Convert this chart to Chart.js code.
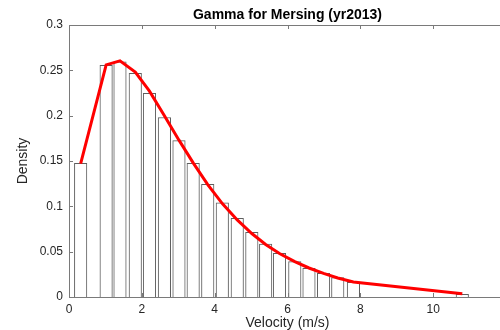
<!DOCTYPE html>
<html>
<head>
<meta charset="utf-8">
<script src="https://cdn.jsdelivr.net/npm/chart.js@4"></script>
<style>
  html, body { margin: 0; padding: 0; overflow: hidden; background: #fff; }
  #wrap { width: 510px; height: 330px; }
</style>
</head>
<body>
<div id="wrap"><canvas id="chartGamma" width="510" height="330"></canvas></div>
<script>
// histogram bins (centres, m/s) and densities
var binCentres = [0.32, 1.02, 1.40, 1.82, 2.21, 2.62, 3.02, 3.41, 3.81, 4.21, 4.62, 5.02, 5.40, 5.78, 6.20, 6.59, 6.99, 7.38, 7.81, 10.80];
var binDensity = [0.1475, 0.2555, 0.2595, 0.2467, 0.2247, 0.198, 0.1724, 0.1475, 0.1243, 0.104, 0.0868, 0.0712, 0.0585, 0.0482, 0.039, 0.0316, 0.026, 0.0213, 0.0162, 0.003];
// fitted gamma curve, read at the same velocities
var fitDensity = [0.147, 0.256, 0.2605, 0.248, 0.227, 0.200, 0.173, 0.148, 0.124, 0.103, 0.085, 0.070, 0.058, 0.048, 0.039, 0.032, 0.026, 0.021, 0.0165, 0.0035];
var xTicks = [0, 2, 4, 6, 8, 10, 12];
var yTicks = [0, 0.05, 0.1, 0.15, 0.2, 0.25, 0.3];

var FONT = '"Liberation Sans", Arial, Helvetica, sans-serif';
var AXIS = '#7a7a7a';
var TEXT = '#262626';

function pts(xs, ys) {
    return xs.map(function (x, i) { return { x: x, y: ys[i] }; });
}

// MATLAB-like box: top line, inward ticks and the title
const boxPlugin = {
    id: 'box',
    afterDraw: function (chart) {
        const ctx = chart.ctx;
        const a = chart.chartArea;
        const sx = chart.scales.x, sy = chart.scales.y;
        ctx.save();
        ctx.strokeStyle = AXIS;
        ctx.lineWidth = 1;
        ctx.beginPath();
        ctx.moveTo(a.left, a.top + 0.5);
        ctx.lineTo(a.right, a.top + 0.5);
        ctx.moveTo(a.right - 0.5, a.top);
        ctx.lineTo(a.right - 0.5, a.bottom);
        xTicks.forEach(function (v) {
            const px = Math.round(sx.getPixelForValue(v)) + 0.5;
            ctx.moveTo(px, a.bottom);
            ctx.lineTo(px, a.bottom - 4);
            ctx.moveTo(px, a.top);
            ctx.lineTo(px, a.top + 4);
        });
        yTicks.forEach(function (v) {
            const py = Math.round(sy.getPixelForValue(v)) + 0.5;
            ctx.moveTo(a.left, py);
            ctx.lineTo(a.left + 4, py);
        });
        ctx.stroke();
        ctx.fillStyle = '#000';
        ctx.font = 'bold 14px ' + FONT;
        ctx.textAlign = 'center';
        ctx.textBaseline = 'middle';
        ctx.fillText('Gamma for Mersing (yr2013)', (a.left + a.right) / 2, 15);
        ctx.restore();
    }
};

const ctx = document.getElementById('chartGamma').getContext('2d');
const myChart = new Chart(ctx, {
    type: 'bar',
    data: {
        datasets: [{
            type: 'line',
            label: 'Gamma fit',
            data: pts(binCentres, fitDensity),
            borderColor: '#ff0000',
            borderWidth: 3,
            pointRadius: 0,
            tension: 0,
            fill: false,
            order: 0
        }, {
            type: 'bar',
            label: 'Histogram',
            data: pts(binCentres, binDensity),
            backgroundColor: '#ffffff',
            borderColor: '#5e5e5e',
            borderWidth: 1,
            barThickness: 12.5,
            order: 1
        }]
    },
    options: {
        responsive: false,
        animation: false,
        layout: { padding: { top: 25, right: 4, left: 0, bottom: 0 } },
        plugins: {
            legend: { display: false },
            tooltip: { enabled: false }
        },
        scales: {
            x: {
                type: 'linear',
                min: 0,
                max: 12,
                offset: false,
                afterFit: function (s) { s.height = 33; s.paddingRight = 0; s.paddingLeft = 0; },
                afterBuildTicks: function (s) { s.ticks = xTicks.map(function (v) { return { value: v }; }); },
                ticks: { color: TEXT, font: { family: FONT, size: 12 }, padding: 5, maxRotation: 0, autoSkip: false },
                grid: { display: false, drawTicks: false, offset: false },
                border: { display: true, color: AXIS },
                title: {
                    display: true,
                    text: 'Velocity (m/s)',
                    color: TEXT,
                    font: { family: FONT, size: 14, lineHeight: 1 },
                    padding: { top: 0, bottom: 0 }
                }
            },
            y: {
                min: 0,
                max: 0.3,
                afterFit: function (s) { s.width = 69; },
                afterBuildTicks: function (s) { s.ticks = yTicks.map(function (v) { return { value: v }; }); },
                ticks: {
                    color: TEXT,
                    font: { family: FONT, size: 12 },
                    padding: 6,
                    callback: function (v) { return String(+v.toFixed(2)); }
                },
                grid: { display: false, drawTicks: false },
                border: { display: true, color: AXIS },
                title: {
                    display: true,
                    text: 'Density',
                    color: TEXT,
                    font: { family: FONT, size: 14, lineHeight: 1 },
                    padding: { top: 16, bottom: 0 }
                }
            }
        }
    },
    plugins: [boxPlugin]
});
</script>
</body>
</html>
